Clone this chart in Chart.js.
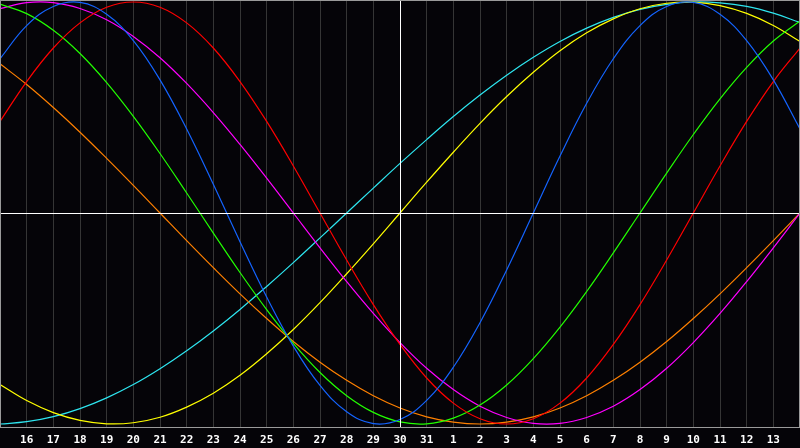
<!DOCTYPE html>
<html>
<head>
<meta charset="utf-8">
<style>
html,body{margin:0;padding:0;background:#050408;}
#wrap{width:800px;height:448px;position:relative;}
</style>
<script src="https://cdn.jsdelivr.net/npm/chart.js@4/dist/chart.umd.min.js"></script>
</head>
<body>
<div id="wrap"><canvas id="c" width="800" height="448"></canvas></div>
<script>
// Day labels (one per day), today = 30
const dayLabels = ['15','16','17','18','19','20','21','22','23','24','25','26','27','28','29','30','31',
                   '1','2','3','4','5','6','7','8','9','10','11','12','13','14'];
const todayIndex = 15;

// Biorhythm cycle values (-1 .. 1), one per day
const physical =     [0.731,0.888,0.979,0.998,0.942,0.817,0.631,0.398,0.136,-0.136,-0.398,-0.631,-0.817,-0.942,-0.998,-0.979,-0.888,-0.731,-0.520,-0.270,0,0.270,0.520,0.731,0.888,0.979,0.998,0.942,0.817,0.631,0.398];
const emotional =    [0.434,0.623,0.782,0.901,0.975,1,0.975,0.901,0.782,0.623,0.434,0.223,0,-0.223,-0.434,-0.623,-0.782,-0.901,-0.975,-1,-0.975,-0.901,-0.782,-0.623,-0.434,-0.223,0,0.223,0.434,0.623,0.782];
const intellectual = [0.990,0.945,0.866,0.756,0.618,0.458,0.282,0.095,-0.095,-0.282,-0.458,-0.618,-0.756,-0.866,-0.945,-0.990,-0.999,-0.972,-0.910,-0.815,-0.690,-0.541,-0.372,-0.189,0,0.189,0.372,0.541,0.690,0.815,0.910];
const intuitive =    [0.969,0.997,0.997,0.969,0.916,0.837,0.736,0.614,0.476,0.325,0.165,0,-0.165,-0.325,-0.476,-0.614,-0.736,-0.837,-0.916,-0.969,-0.997,-0.997,-0.969,-0.916,-0.837,-0.736,-0.614,-0.476,-0.325,-0.165,0];
const aesthetic =    [-0.813,-0.889,-0.946,-0.983,-0.999,-0.994,-0.968,-0.920,-0.854,-0.769,-0.667,-0.552,-0.425,-0.288,-0.146,0,0.146,0.288,0.425,0.552,0.667,0.769,0.854,0.920,0.968,0.994,0.999,0.983,0.946,0.889,0.813];
const awareness =    [0.707,0.609,0.5,0.383,0.259,0.131,0,-0.131,-0.259,-0.383,-0.5,-0.609,-0.707,-0.793,-0.866,-0.924,-0.966,-0.991,-1,-0.991,-0.966,-0.924,-0.866,-0.793,-0.707,-0.609,-0.5,-0.383,-0.259,-0.131,0];
const spiritual =    [-1.000,-0.989,-0.965,-0.927,-0.876,-0.813,-0.738,-0.653,-0.559,-0.457,-0.348,-0.235,-0.118,0,0.118,0.235,0.348,0.457,0.559,0.653,0.738,0.813,0.876,0.927,0.965,0.989,1.000,0.996,0.979,0.947,0.903];

const seriesNames = ['Physical','Emotional','Intellectual','Intuitive','Aesthetic','Awareness','Spiritual'];
const seriesData = [physical, emotional, intellectual, intuitive, aesthetic, awareness, spiritual];
const seriesColors = ['#1464ff','#ff0000','#22ff00','#ff00ff','#ffff00','#ff8000','#2ee6f0'];

const bgPlugin = {
  id: 'bg',
  beforeDraw(chart) {
    const ctx = chart.ctx;
    ctx.save();
    ctx.fillStyle = '#050408';
    ctx.fillRect(0, 0, chart.width, chart.height);
    ctx.restore();
  }
};

const framePlugin = {
  id: 'frame',
  afterDatasetsDraw(chart) {
    const {ctx, chartArea: a, scales: {x, y}} = chart;
    ctx.save();
    ctx.lineWidth = 1;
    ctx.strokeStyle = '#ffffff';
    const y0 = Math.round(y.getPixelForValue(0)) + 0.5;
    ctx.beginPath(); ctx.moveTo(a.left, y0); ctx.lineTo(a.right, y0); ctx.stroke();
    const x0 = Math.round(x.getPixelForValue(todayIndex)) + 0.5;
    ctx.beginPath(); ctx.moveTo(x0, a.top); ctx.lineTo(x0, a.bottom); ctx.stroke();
    ctx.strokeStyle = '#9a9a9a';
    ctx.strokeRect(a.left + 0.5, a.top + 0.5, a.right - a.left - 1, a.bottom - a.top);
    ctx.restore();
  }
};

new Chart(document.getElementById('c'), {
  type: 'line',
  data: {
    labels: dayLabels,
    datasets: seriesData.map((d, i) => ({
      label: seriesNames[i],
      data: d,
      borderColor: seriesColors[i],
      borderWidth: 1.2,
      pointRadius: 0,
      pointHoverRadius: 0,
      tension: 0.4,
      fill: false
    }))
  },
  options: {
    responsive: false,
    animation: false,
    devicePixelRatio: 1,
    layout: { padding: 0, autoPadding: false },
    plugins: { legend: { display: false }, tooltip: { enabled: false }, title: { display: false } },
    scales: {
      y: { display: false, min: -1.0142, max: 1.0095 },
      x: {
        border: { display: false },
        grid: {
          drawTicks: false,
          tickLength: 0,
          lineWidth: 1,
          color: (c) => (c.index === 0 || c.index === dayLabels.length - 1) ? 'rgba(0,0,0,0)' : '#353535'
        },
        ticks: {
          autoSkip: false,
          maxRotation: 0,
          minRotation: 0,
          padding: 7,
          color: '#ffffff',
          font: { family: 'DejaVu Sans Mono', size: 11, weight: 'bold' },
          callback: (v, i) => (i === 0 || i === dayLabels.length - 1) ? '' : dayLabels[i]
        },
        afterFit: (s) => { s.height = 21; s.paddingLeft = 0; s.paddingRight = 0; }
      }
    }
  },
  plugins: [bgPlugin, framePlugin]
});
</script>
</body>
</html>
